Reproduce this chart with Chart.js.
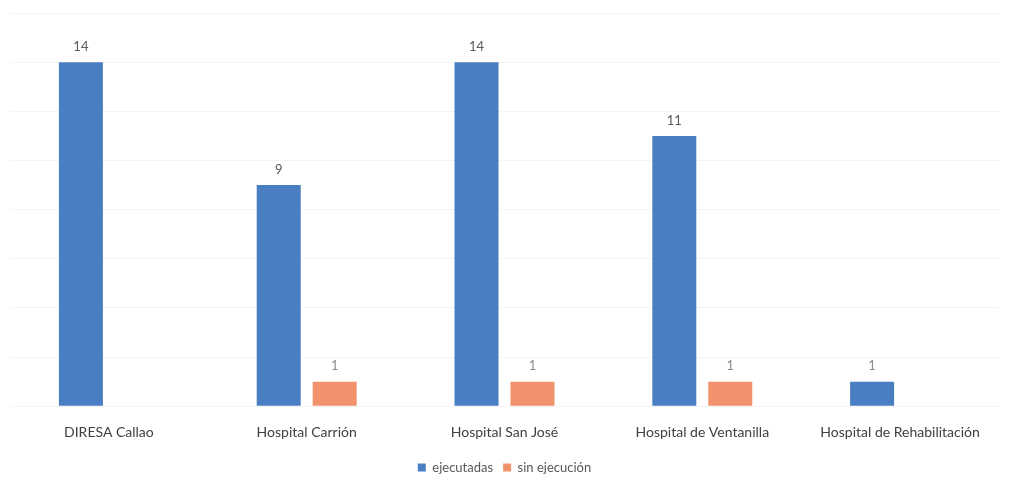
<!DOCTYPE html>
<html>
<head>
<meta charset="utf-8">
<script src="https://cdn.jsdelivr.net/npm/chart.js@4/dist/chart.umd.min.js"></script>
<style>
    body { margin: 0; background: #fff; }
    #wrap { width: 1015px; height: 493px; position: relative; }
</style>
</head>
<body>
<div id="wrap"><canvas id="chart"></canvas></div>
<script>
var categories = ["DIRESA Callao", "Hospital Carrión", "Hospital San José", "Hospital de Ventanilla", "Hospital de Rehabilitación"];
var ejecutadas = [14, 9, 14, 11, 1];
var sinEjecucion = [null, 1, 1, 1, null];
var seriesNames = ["ejecutadas", "sin ejecución"];

// draws the value above each bar
var barLabels = {
    id: 'barLabels',
    afterDatasetsDraw: function (chart) {
        var ctx = chart.ctx;
        ctx.save();
        ctx.font = '13px Lato';
        ctx.textAlign = 'center';
        ctx.textBaseline = 'bottom';
        chart.data.datasets.forEach(function (ds, i) {
            chart.getDatasetMeta(i).data.forEach(function (bar, j) {
                var v = ds.data[j];
                if (v === null) return;
                ctx.fillStyle = v > 1 ? '#595959' : '#8c8c8c';
                ctx.fillText(v, bar.x, bar.y - 9);
            });
        });
        ctx.restore();
    }
};

var ctx = document.getElementById('chart').getContext('2d');
new Chart(ctx, {
    type: 'bar',
    data: {
        labels: categories,
        datasets: [{
            label: seriesNames[0],
            data: ejecutadas,
            backgroundColor: '#4a7ec3'
        }, {
            label: seriesNames[1],
            data: sinEjecucion,
            backgroundColor: '#f0926b'
        }]
    },
    plugins: [barLabels],
    options: {
        responsive: true,
        maintainAspectRatio: false,
        animation: false,
        categoryPercentage: 0.566,
        barPercentage: 0.786,
        layout: { padding: { left: 10, right: 16, top: 13, bottom: 9 } },
        plugins: {
            tooltip: { enabled: false },
            legend: {
                position: 'bottom',
                labels: {
                    boxWidth: 8,
                    boxHeight: 8,
                    padding: 10,
                    color: '#595959',
                    font: { family: 'Lato', size: 13 }
                }
            }
        },
        scales: {
            x: {
                grid: { display: false },
                border: { display: false },
                ticks: {
                    color: '#404040',
                    padding: 10,
                    maxRotation: 0,
                    font: { family: 'Lato', size: 14 }
                }
            },
            y: {
                min: 0,
                max: 16,
                ticks: { display: false, stepSize: 2 },
                border: { display: false },
                grid: { color: '#f4f4f4', drawTicks: false }
            }
        }
    }
});
</script>
</body>
</html>
